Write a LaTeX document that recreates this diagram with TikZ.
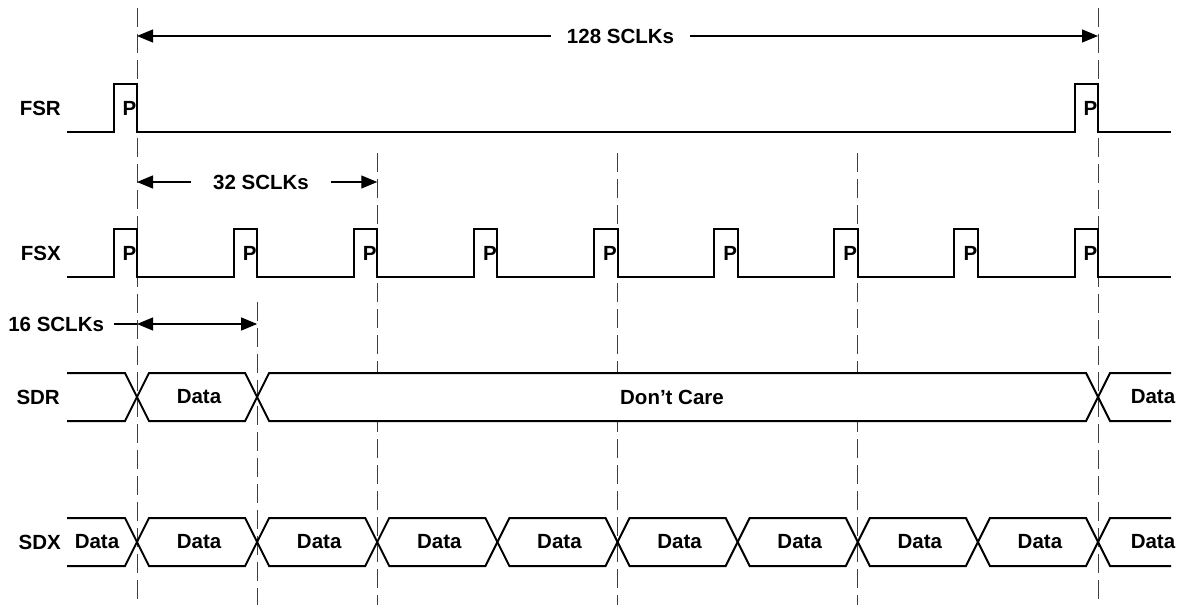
\documentclass[tikz,border=0pt]{standalone}
\usepackage{fontspec}
\setmainfont{Liberation Sans}
\usetikzlibrary{arrows.meta}

\begin{document}
\begin{tikzpicture}[
  x=1pt,y=1pt,
  wave/.style={line width=2pt,line join=miter},
  seg/.style={wave,fill=white},
  guide/.style={black!75,line width=1pt,dash pattern=on 19pt off 7pt},
  dim/.style={-{Triangle[length=16pt,width=13pt]},line width=1.2pt},
  lbl/.style={font=\fontsize{20.5}{24}\selectfont\bfseries,inner sep=0pt}
]
  \useasboundingbox (0,0) rectangle (1180,611);
  \def\T{120.125}

  % guides
  \foreach \k in {0,8} \draw[guide] ({137+\k*\T},603) -- ({137+\k*\T},6);
  \foreach \k in {2,4,6} \draw[guide] ({137+\k*\T},458) -- ({137+\k*\T},6);
  \draw[guide] ({137+\T},309) -- ({137+\T},6);

  % FSR
  \node[lbl,anchor=east] (fsr) at (61,503) {FSR};
  \draw[wave] (67,479) -- (113.5,479) |- (137,527) |- (1074.5,479) |- (1098,527) |- (1171,479);
  \node[lbl] (pr0) at (129.5,503) {P};
  \node[lbl] (pr1) at (1090.5,503) {P};

  % FSX
  \node[lbl,anchor=east] (fsx) at (61,358) {FSX};
  \draw[wave] (67,334) foreach \k in {0,...,8} {
    -| ({137+\k*\T-23.5},382) -| ({137+\k*\T},334) } -- (1171,334);
  \foreach \k in {0,...,8} \node[lbl] (px\k) at ({137+\k*\T-7.5},358) {P};

  % SDR
  \node[lbl,anchor=east] (sdr) at (60,214) {SDR};
  \draw[wave] (67,238) -- (125,238) -- (137,214) -- (125,190) -- (67,190);
  \draw[seg] (137,214) -- (149,238) -- ({137+\T-12},238) -- ({137+\T},214)
    -- ({137+\T-12},190) -- (149,190) -- cycle;
  \draw[seg] ({137+\T},214) -- ({137+\T+12},238) -- (1086,238) -- (1098,214)
    -- (1086,190) -- ({137+\T+12},190) -- cycle;
  \draw[wave] (1171,238) -- (1110,238) -- (1098,214) -- (1110,190) -- (1171,190);
  \node[lbl] (sdr0) at (199,214) {Data};
  \node[lbl] (sdr1) at (672,214) {Don’t Care};
  \node[lbl] (sdr2) at (1153,214) {Data};

  % SDX
  \node[lbl,anchor=east] (sdx) at (61,69) {SDX};
  \draw[wave] (67,93) -- (125,93) -- (137,69) -- (125,45) -- (67,45);
  \foreach \k in {0,...,7}
    \draw[seg] ({137+\k*\T},69) -- ++(12,24) -- ({137+(\k+1)*\T-12},93) -- ++(12,-24)
      -- ++(-12,-24) -- ({137+\k*\T+12},45) -- cycle;
  \draw[wave] (1171,93) -- (1110,93) -- (1098,69) -- (1110,45) -- (1171,45);
  \node[lbl] (dxl) at (97,69) {Data};
  \foreach \k in {0,...,7} \node[lbl] (dx\k) at ({137+(\k+0.5)*\T+2},69) {Data};
  \node[lbl] (dxr) at (1153,69) {Data};

  % spans
  \coordinate (a128l) at (137,575);
  \coordinate (a128r) at (1098,575);
  \node[lbl,outer xsep=16pt] (l128) at (620.5,575) {128 SCLKs};
  \draw[dim] (l128) -- (a128l);
  \draw[dim] (l128) -- (a128r);

  \coordinate (a32l) at (137,429);
  \coordinate (a32r) at ({137+2*\T},429);
  \node[lbl,outer xsep=22pt] (l32) at (261,429) {32 SCLKs};
  \draw[dim] (l32) -- (a32l);
  \draw[dim] (l32) -- (a32r);

  \coordinate (a16l) at (137,287);
  \coordinate (a16r) at ({137+\T},287);
  \node[lbl,anchor=east,outer xsep=10pt] (l16) at (114,287) {16 SCLKs};
  \draw[line width=1.2pt] (l16) -- (a16l);
  \draw[dim,{Triangle[length=16pt,width=13pt]}-{Triangle[length=16pt,width=13pt]}] (a16l) -- (a16r);
\end{tikzpicture}
\end{document}
